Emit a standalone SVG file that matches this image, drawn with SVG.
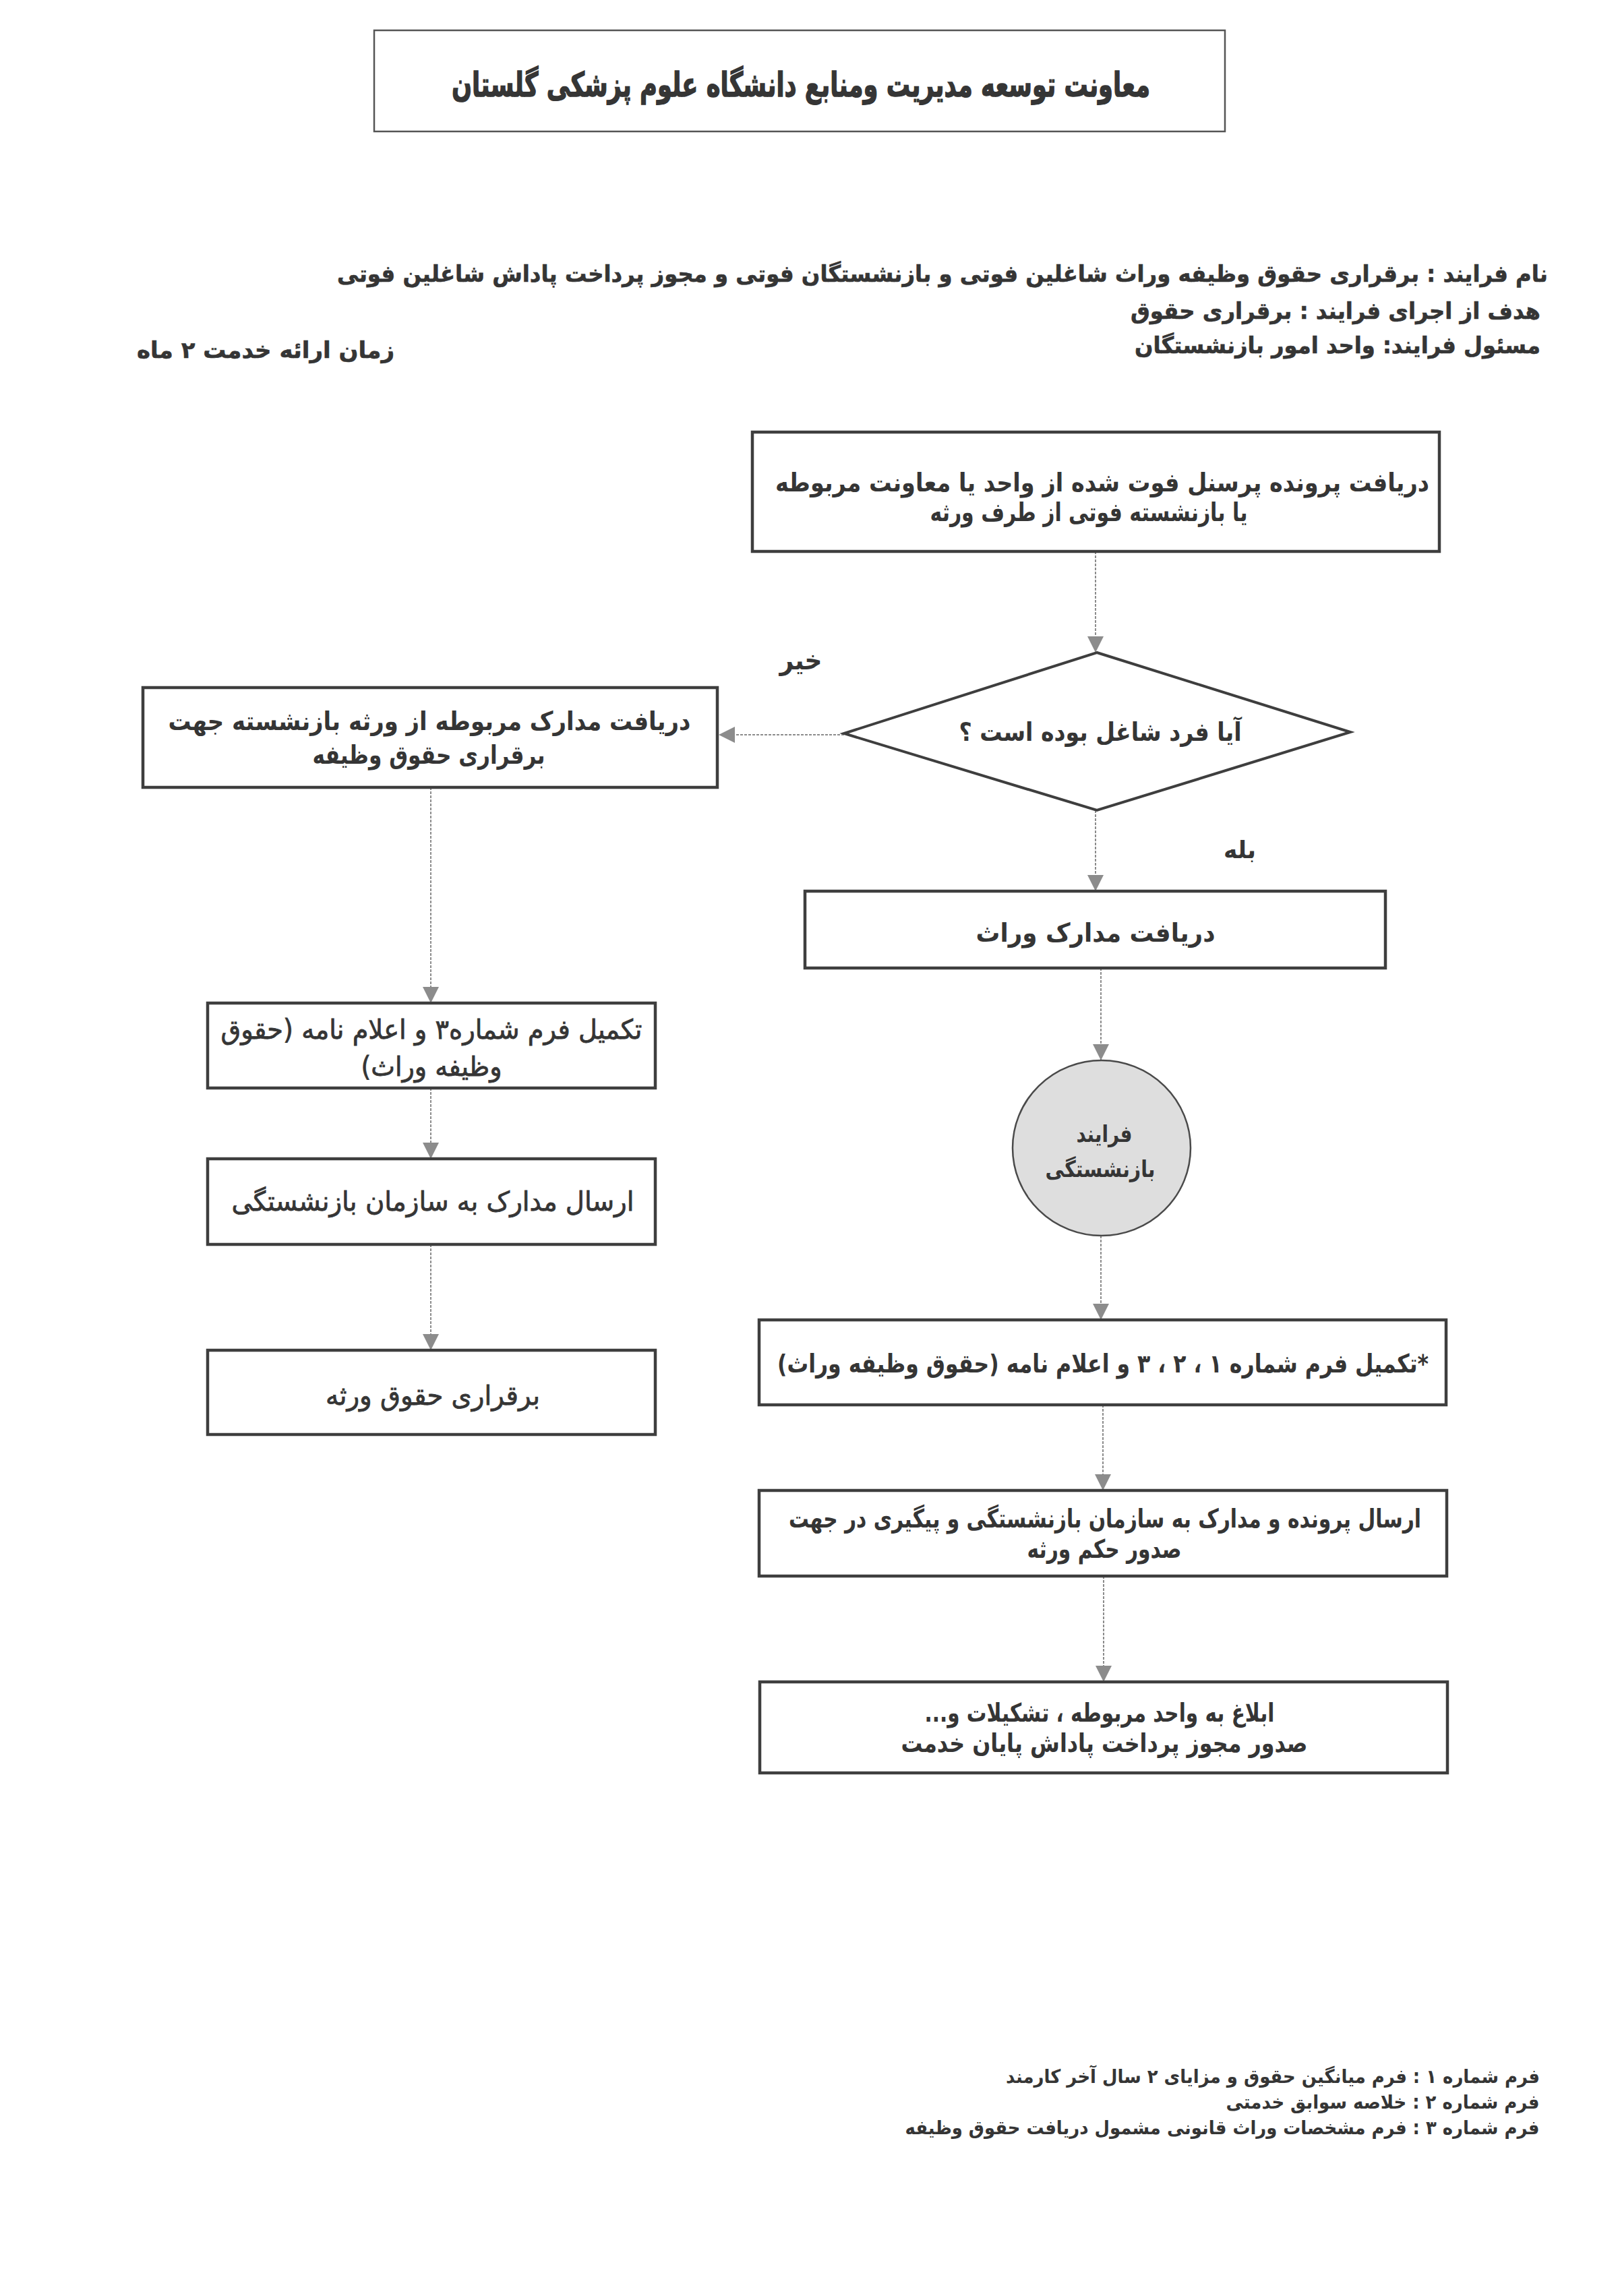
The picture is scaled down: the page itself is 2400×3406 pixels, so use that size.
<svg xmlns="http://www.w3.org/2000/svg" width="2400" height="3406" viewBox="0 0 2400 3406">
<defs>
<style>
.t{font-family:"DejaVu Sans","Noto Sans",sans-serif;fill:#353535;direction:rtl;}
.b{font-weight:bold;}
.n{font-weight:normal;stroke:#353535;stroke-width:0.8;}
.box{fill:#fff;stroke:#3e3e3e;stroke-width:4.5;}
.con{fill:none;stroke:#8c8c8c;stroke-width:2;stroke-dasharray:4 2;}
</style>
<marker id="arr" markerUnits="userSpaceOnUse" markerWidth="24" markerHeight="24" viewBox="0 0 24 24" refX="24" refY="12" orient="auto">
<path d="M0,0 L24,12 L0,24 Z" fill="#8c8c8c"/>
</marker>
</defs>
<rect width="2400" height="3406" fill="#fff"/>

<g id="title">
<rect x="555" y="45" width="1262" height="150" fill="#fff" stroke="#555" stroke-width="2.5"/>
<text class="t b" x="1188" y="143" font-size="50" text-anchor="middle" stroke="#353535" stroke-width="1.5" textLength="1036" lengthAdjust="spacingAndGlyphs">معاونت  توسعه مدیریت ومنابع دانشگاه علوم پزشکی گلستان</text>
</g>

<g id="header">
<text class="t b" x="1398" y="418" font-size="34" text-anchor="middle" stroke="#353535" stroke-width="0.6" textLength="1796" lengthAdjust="spacingAndGlyphs">نام فرایند : برقراری حقوق وظیفه وراث شاغلین فوتی و بازنشستگان  فوتی  و مجوز پرداخت پاداش شاغلین فوتی</text>
<text class="t b" x="1981" y="473" font-size="34" text-anchor="middle" stroke="#353535" stroke-width="0.6" textLength="608" lengthAdjust="spacingAndGlyphs">هدف از اجرای فرایند : برقراری حقوق</text>
<text class="t b" x="1984" y="524" font-size="34" text-anchor="middle" stroke="#353535" stroke-width="0.6" textLength="602" lengthAdjust="spacingAndGlyphs">مسئول فرایند: واحد امور بازنشستگان</text>
<text class="t b" x="394" y="531" font-size="34" text-anchor="middle" stroke="#353535" stroke-width="0.6" textLength="382" lengthAdjust="spacingAndGlyphs">زمان ارائه خدمت  ۲ ماه</text>
</g>

<g id="connectors">
<line class="con" x1="1625" y1="818" x2="1625" y2="968" marker-end="url(#arr)"/>
<line class="con" x1="1252" y1="1090" x2="1066" y2="1090" marker-end="url(#arr)"/>
<line class="con" x1="639" y1="1168" x2="639" y2="1488" marker-end="url(#arr)"/>
<line class="con" x1="639" y1="1614" x2="639" y2="1719" marker-end="url(#arr)"/>
<line class="con" x1="639" y1="1846" x2="639" y2="2003" marker-end="url(#arr)"/>
<line class="con" x1="1625" y1="1202" x2="1625" y2="1322" marker-end="url(#arr)"/>
<line class="con" x1="1633" y1="1436" x2="1633" y2="1573" marker-end="url(#arr)"/>
<line class="con" x1="1633" y1="1833" x2="1633" y2="1958" marker-end="url(#arr)"/>
<line class="con" x1="1636" y1="2084" x2="1636" y2="2211" marker-end="url(#arr)"/>
<line class="con" x1="1637" y1="2338" x2="1637" y2="2495" marker-end="url(#arr)"/>
</g>

<g id="n1">
<rect class="box" x="1116" y="641" width="1019" height="177"/>
<text class="t b" x="1635" y="729" font-size="38" text-anchor="middle" textLength="970" lengthAdjust="spacingAndGlyphs">دریافت پرونده پرسنل فوت شده از واحد یا معاونت مربوطه</text>
<text class="t b" x="1615" y="773" font-size="38" text-anchor="middle" textLength="471" lengthAdjust="spacingAndGlyphs">یا بازنشسته فوتی از طرف ورثه</text>
</g>

<g id="decision">
<polygon points="1627,968 2003,1086 1627,1202 1252,1088" fill="#fff" stroke="#3e3e3e" stroke-width="4"/>
<text class="t b" x="1632" y="1099" font-size="38" text-anchor="middle" textLength="419" lengthAdjust="spacingAndGlyphs">آیا فرد شاغل بوده است ؟</text>
</g>

<g id="label-no">
<text class="t b" x="1188" y="993" font-size="40" text-anchor="middle" textLength="63" lengthAdjust="spacingAndGlyphs">خیر</text>
</g>
<g id="label-yes">
<text class="t b" x="1839" y="1273" font-size="36" text-anchor="middle" textLength="48" lengthAdjust="spacingAndGlyphs">بله</text>
</g>

<g id="l1">
<rect class="box" x="212" y="1020" width="852" height="148"/>
<text class="t b" x="637" y="1083" font-size="38" text-anchor="middle" textLength="775" lengthAdjust="spacingAndGlyphs">دریافت مدارک مربوطه از ورثه بازنشسته جهت</text>
<text class="t b" x="636" y="1133" font-size="38" text-anchor="middle" textLength="345" lengthAdjust="spacingAndGlyphs">برقراری حقوق وظیفه</text>
</g>

<g id="l2">
<rect class="box" x="308" y="1488" width="664" height="126"/>
<text class="t n" x="640" y="1541" font-size="40" text-anchor="middle" textLength="625" lengthAdjust="spacingAndGlyphs">تکمیل فرم شماره۳  و اعلام نامه (حقوق</text>
<text class="t n" x="640" y="1596" font-size="40" text-anchor="middle" textLength="209" lengthAdjust="spacingAndGlyphs">وظیفه وراث)</text>
</g>

<g id="l3">
<rect class="box" x="308" y="1719" width="664" height="127"/>
<text class="t n" x="642" y="1796" font-size="40" text-anchor="middle" textLength="597" lengthAdjust="spacingAndGlyphs">ارسال مدارک به سازمان بازنشستگی</text>
</g>

<g id="l4">
<rect class="box" x="308" y="2003" width="664" height="125"/>
<text class="t n" x="642" y="2084" font-size="40" text-anchor="middle" textLength="318" lengthAdjust="spacingAndGlyphs">برقراری حقوق ورثه</text>
</g>

<g id="r1">
<rect class="box" x="1194" y="1322" width="861" height="114"/>
<text class="t b" x="1625" y="1397" font-size="38" text-anchor="middle" textLength="355" lengthAdjust="spacingAndGlyphs">دریافت مدارک وراث</text>
</g>

<g id="circle">
<ellipse cx="1634" cy="1703" rx="132" ry="130" fill="#dedede" stroke="#4a4a4a" stroke-width="2.5"/>
<text class="t b" x="1638" y="1694" font-size="34" text-anchor="middle" textLength="83" lengthAdjust="spacingAndGlyphs">فرایند</text>
<text class="t b" x="1632" y="1746" font-size="34" text-anchor="middle" textLength="163" lengthAdjust="spacingAndGlyphs">بازنشستگی</text>
</g>

<g id="r2">
<rect class="box" x="1126" y="1958" width="1019" height="126"/>
<text class="t b" x="1636" y="2036" font-size="38" text-anchor="middle" textLength="966" lengthAdjust="spacingAndGlyphs">*تکمیل فرم شماره ۱ ، ۲ ، ۳ و اعلام نامه (حقوق وظیفه وراث)</text>
</g>

<g id="r3">
<rect class="box" x="1126" y="2211" width="1020" height="127"/>
<text class="t b" x="1639" y="2266" font-size="38" text-anchor="middle" textLength="938" lengthAdjust="spacingAndGlyphs">ارسال پرونده و مدارک به سازمان بازنشستگی و پیگیری در جهت</text>
<text class="t b" x="1638" y="2311" font-size="38" text-anchor="middle" textLength="229" lengthAdjust="spacingAndGlyphs">صدور حکم ورثه</text>
</g>

<g id="r4">
<rect class="box" x="1127" y="2495" width="1020" height="135"/>
<text class="t b" x="1631" y="2554" font-size="38" text-anchor="middle" textLength="519" lengthAdjust="spacingAndGlyphs">ابلاغ به واحد مربوطه ، تشکیلات و...</text>
<text class="t b" x="1638" y="2599" font-size="38" text-anchor="middle" textLength="603" lengthAdjust="spacingAndGlyphs">صدور مجوز پرداخت پاداش پایان خدمت</text>
</g>

<g id="footer">
<text class="t b" x="1888" y="3090" font-size="28" text-anchor="middle" textLength="792" lengthAdjust="spacingAndGlyphs">فرم شماره ۱ :  فرم میانگین حقوق و مزایای ۲ سال آخر کارمند</text>
<text class="t b" x="2051" y="3128" font-size="28" text-anchor="middle" textLength="465" lengthAdjust="spacingAndGlyphs">فرم شماره ۲ : خلاصه سوابق خدمتی</text>
<text class="t b" x="1813" y="3166" font-size="28" text-anchor="middle" textLength="941" lengthAdjust="spacingAndGlyphs">فرم شماره ۳ : فرم مشخصات وراث قانونی مشمول دریافت حقوق وظیفه</text>
</g>
</svg>
